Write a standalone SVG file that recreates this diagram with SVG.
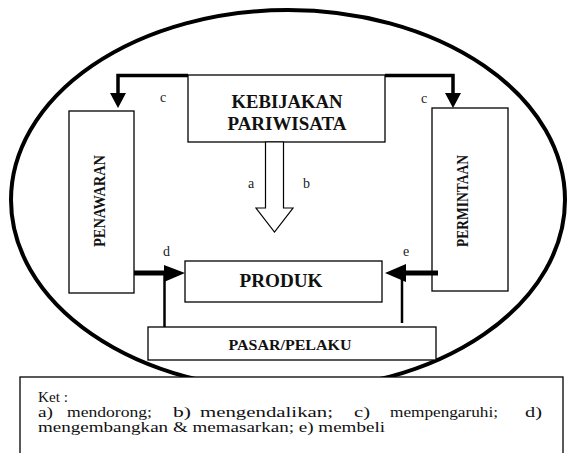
<svg xmlns="http://www.w3.org/2000/svg" width="571" height="453" viewBox="0 0 571 453">
<style>
.box{fill:#fff;stroke:#000;stroke-width:1.3}
.thick{stroke:#000;stroke-width:3.5;fill:none}
.thin{stroke:#000;stroke-width:2.5;fill:none}
</style>
<rect width="571" height="453" fill="#fff"/>
<ellipse id="boundary" cx="288" cy="200" rx="277" ry="190" fill="none" stroke="#000" stroke-width="4"/>
<g id="kebijakan" font-family="Liberation Serif, serif" font-weight="bold" fill="#111">
<rect class="box" x="188" y="75" width="197" height="67"/>
<text x="287" y="108" font-size="18" text-anchor="middle" textLength="111" lengthAdjust="spacingAndGlyphs">KEBIJAKAN</text>
<text x="287" y="130" font-size="18" text-anchor="middle" textLength="119" lengthAdjust="spacingAndGlyphs">PARIWISATA</text>
</g>
<g id="penawaran" font-family="Liberation Serif, serif" font-weight="bold" fill="#111">
<rect class="box" x="69" y="111" width="65" height="182"/>
<text font-size="17" text-anchor="middle" transform="translate(105,201) rotate(-90)" textLength="92" lengthAdjust="spacingAndGlyphs">PENAWARAN</text>
</g>
<g id="permintaan" font-family="Liberation Serif, serif" font-weight="bold" fill="#111">
<rect class="box" x="432" y="108" width="76" height="183"/>
<text font-size="17" text-anchor="middle" transform="translate(468,201) rotate(-90)" textLength="92" lengthAdjust="spacingAndGlyphs">PERMINTAAN</text>
</g>
<g id="produk" font-family="Liberation Serif, serif" font-weight="bold" fill="#111">
<rect class="box" x="185" y="261" width="197" height="41"/>
<text x="281" y="287" font-size="18" text-anchor="middle" textLength="83" lengthAdjust="spacingAndGlyphs">PRODUK</text>
</g>
<g id="pasar" font-family="Liberation Serif, serif" font-weight="bold" fill="#111">
<rect class="box" x="148" y="327" width="288" height="33"/>
<text x="290" y="350" font-size="15" text-anchor="middle" textLength="123" lengthAdjust="spacingAndGlyphs">PASAR/PELAKU</text>
</g>
<g id="connectors">
<polyline class="thick" points="188,75.5 118,75.5 118,94"/>
<polygon points="110,93 126,93 118,108" fill="#000"/>
<polyline class="thick" points="385,75.5 453,75.5 453,94"/>
<polygon points="445,93 461,93 453,108" fill="#000"/>
<polygon points="265.5,142 265.5,208 256,208 274.5,232 293,208 283.5,208 283.5,142" fill="#fff" stroke="#000" stroke-width="1.2"/>
<line x1="134" y1="273" x2="168" y2="273" stroke="#000" stroke-width="5"/>
<polygon points="164,265 185,273 164,282" fill="#000"/>
<line x1="164.5" y1="273" x2="164.5" y2="327" class="thin"/>
<line x1="438" y1="273" x2="400" y2="273" stroke="#000" stroke-width="5"/>
<polygon points="406,264 385,273 406,282" fill="#000"/>
<line x1="402" y1="273" x2="402" y2="323" class="thin"/>
<g font-family="Liberation Serif, serif" font-size="14" fill="#222">
<text x="160" y="102">c</text>
<text x="421" y="103">c</text>
<text x="248" y="188">a</text>
<text x="303" y="188">b</text>
<text x="163" y="256">d</text>
<text x="403" y="256">e</text>
</g>
</g>
<g id="keterangan" font-family="Liberation Serif, serif" font-size="15" fill="#111">
<rect x="20" y="377" width="543" height="90" fill="#fff" stroke="#000" stroke-width="1.3"/>
<text x="38" y="402" textLength="30" lengthAdjust="spacingAndGlyphs">Ket :</text>
<text y="417"><tspan x="38" textLength="15" lengthAdjust="spacingAndGlyphs">a)</tspan><tspan x="67" textLength="85" lengthAdjust="spacingAndGlyphs">mendorong;</tspan><tspan x="173" textLength="18" lengthAdjust="spacingAndGlyphs">b)</tspan><tspan x="200" textLength="133" lengthAdjust="spacingAndGlyphs">mengendalikan;</tspan><tspan x="354" textLength="16" lengthAdjust="spacingAndGlyphs">c)</tspan><tspan x="390" textLength="108" lengthAdjust="spacingAndGlyphs">mempengaruhi;</tspan><tspan x="525" textLength="17" lengthAdjust="spacingAndGlyphs">d)</tspan></text>
<text x="38" y="432" textLength="347" lengthAdjust="spacingAndGlyphs">mengembangkan &amp; memasarkan; e) membeli</text>
</g>
</svg>
